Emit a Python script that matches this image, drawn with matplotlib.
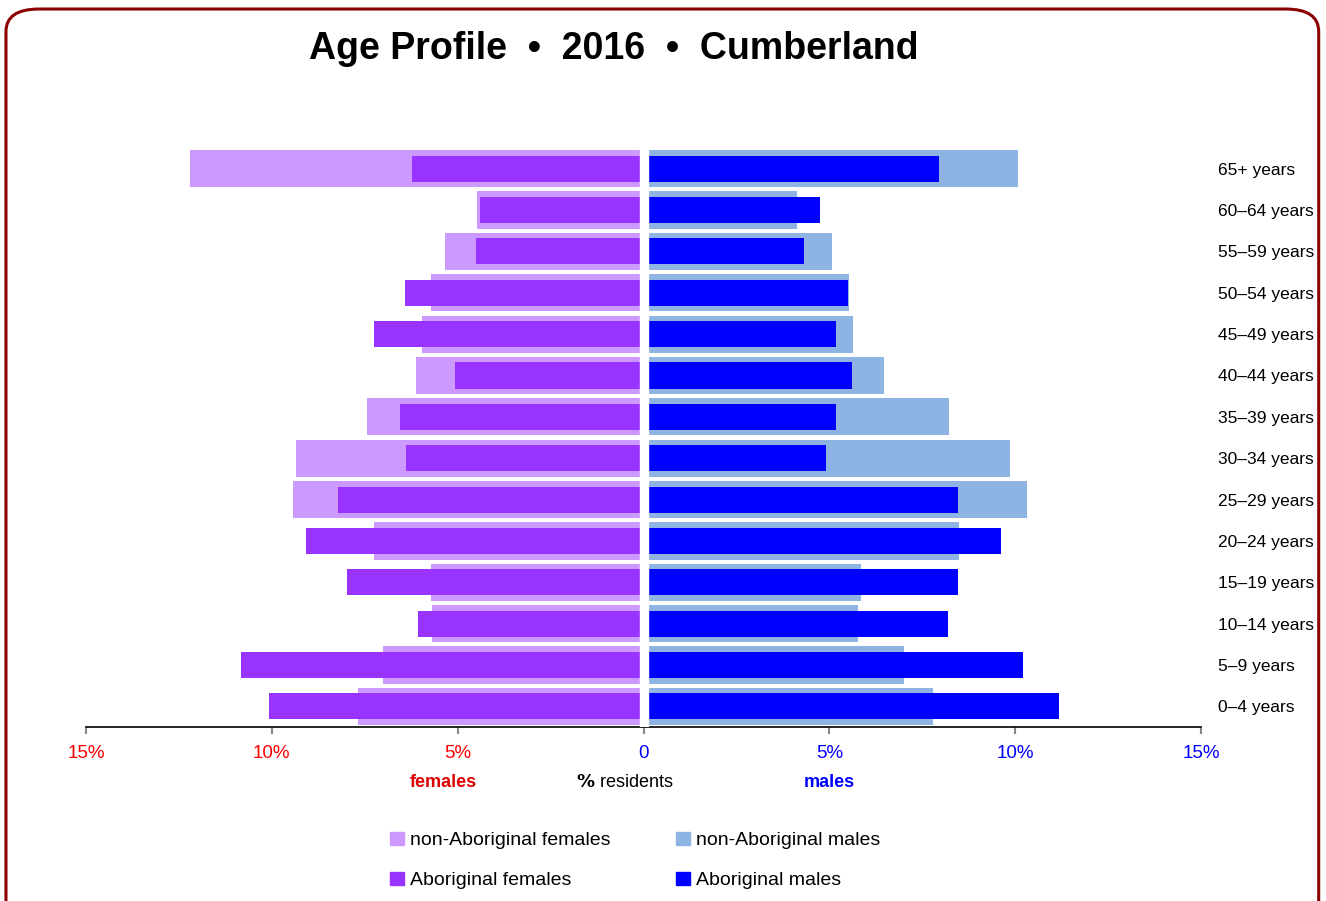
import matplotlib

matplotlib.use("Agg")
import matplotlib.pyplot as plt
from matplotlib.patches import FancyBboxPatch, Patch
import numpy as np

plt.rcParams['font.family'] = ['Liberation Sans Narrow', 'Liberation Sans', 'DejaVu Sans']

# age groups, youngest first (drawn bottom to top)
AGES = ["0–4 years", "5–9 years", "10–14 years", "15–19 years", "20–24 years",
        "25–29 years", "30–34 years", "35–39 years", "40–44 years", "45–49 years",
        "50–54 years", "55–59 years", "60–64 years", "65+ years"]

# % residents
NONAB_F = [7.69, 7.00, 5.68, 5.73, 7.26, 9.42, 9.34, 7.43, 6.11, 5.97, 5.73, 5.35, 4.49, 12.19]
AB_F = [10.09, 10.82, 6.08, 7.99, 9.09, 8.23, 6.38, 6.54, 5.08, 7.24, 6.43, 4.52, 4.39, 6.24]
NONAB_M = [7.78, 7.02, 5.76, 5.86, 8.50, 10.33, 9.87, 8.23, 6.46, 5.65, 5.54, 5.06, 4.14, 10.09]
AB_M = [11.19, 10.20, 8.18, 8.47, 9.63, 8.47, 4.90, 5.19, 5.62, 5.19, 5.49, 4.33, 4.76, 7.94]

XTICKS = [-15, -10, -5, 0, 5, 10, 15]
XTICKLABELS = ["15%", "10%", "5%", "0", "5%", "10%", "15%"]

C_NONAB_F = "#cc99ff"
C_AB_F = "#9933ff"
C_NONAB_M = "#8db4e2"
C_AB_M = "#0000ff"
RED = "#ff0000"
BLUE = "#0000ff"
BORDER = "#8b0000"

fig = plt.figure(figsize=(13.26, 9.01), dpi=100)
ax = fig.add_axes([0.0649, 0.1931, 0.8408, 0.6426])

y = np.arange(len(AGES))
ax.barh(y, -np.array(NONAB_F), height=0.9, color=C_NONAB_F, zorder=2)
ax.barh(y, -np.array(AB_F), height=0.63, color=C_AB_F, zorder=3)
ax.barh(y, NONAB_M, height=0.9, color=C_NONAB_M, zorder=2)
ax.barh(y, AB_M, height=0.63, color=C_AB_M, zorder=3)
# white gap down the middle
ax.axvspan(-0.1, 0.13, color="white", zorder=4)

ax.set_xlim(-15, 15)
ax.set_ylim(-0.5, 13.5)
ax.set_yticks(y)
ax.set_yticklabels(AGES, fontsize=12.5)
ax.yaxis.tick_right()
ax.tick_params(axis="y", length=0, pad=12)

ax.set_xticks(XTICKS)
ax.set_xticklabels(XTICKLABELS, fontsize=13.5)
ax.tick_params(axis="x", length=5, color="#888888", width=1.5, pad=8)
for lbl, v in zip(ax.get_xticklabels(), XTICKS):
    lbl.set_color(RED if v < 0 else BLUE)

for s in ("top", "right", "left"):
    ax.spines[s].set_visible(False)
ax.spines["bottom"].set_linewidth(1.2)

# axis captions under the ticks
ax.text(-5.4, -1.85, "females", color="#dd0000", fontsize=13, fontweight="bold", ha="center", va="center")
ax.text(-0.5, -1.85, r"$\mathbf{\%}$ residents", color="black", fontsize=13, ha="center", va="center")
ax.text(5.0, -1.85, "males", color=BLUE, fontsize=13, fontweight="bold", ha="center", va="center")

fig.text(0.463, 0.946, "Age Profile  •  2016  •  Cumberland", fontsize=27, fontweight="bold",
         ha="center", va="center", family=["Liberation Sans", "DejaVu Sans"])

handles = [
    Patch(color=C_NONAB_F, label="non-Aboriginal females"),
    Patch(color=C_AB_F, label="Aboriginal females"),
    Patch(color=C_NONAB_M, label="non-Aboriginal males"),
    Patch(color=C_AB_M, label="Aboriginal males"),
]
fig.legend(handles=handles, loc="center", bbox_to_anchor=(0.479, 0.045), ncol=2,
           frameon=False, fontsize=14, handlelength=0.7, handleheight=0.7,
           handletextpad=0.3, columnspacing=3.4, labelspacing=1.15)

border = FancyBboxPatch((0.0045, -0.05), 0.990, 1.04, transform=fig.transFigure,
                        boxstyle="round,pad=0,rounding_size=0.025",
                        facecolor="none", edgecolor=BORDER, linewidth=2.2)
fig.patches.append(border)

fig.savefig("out.png", dpi=100, facecolor="white")
